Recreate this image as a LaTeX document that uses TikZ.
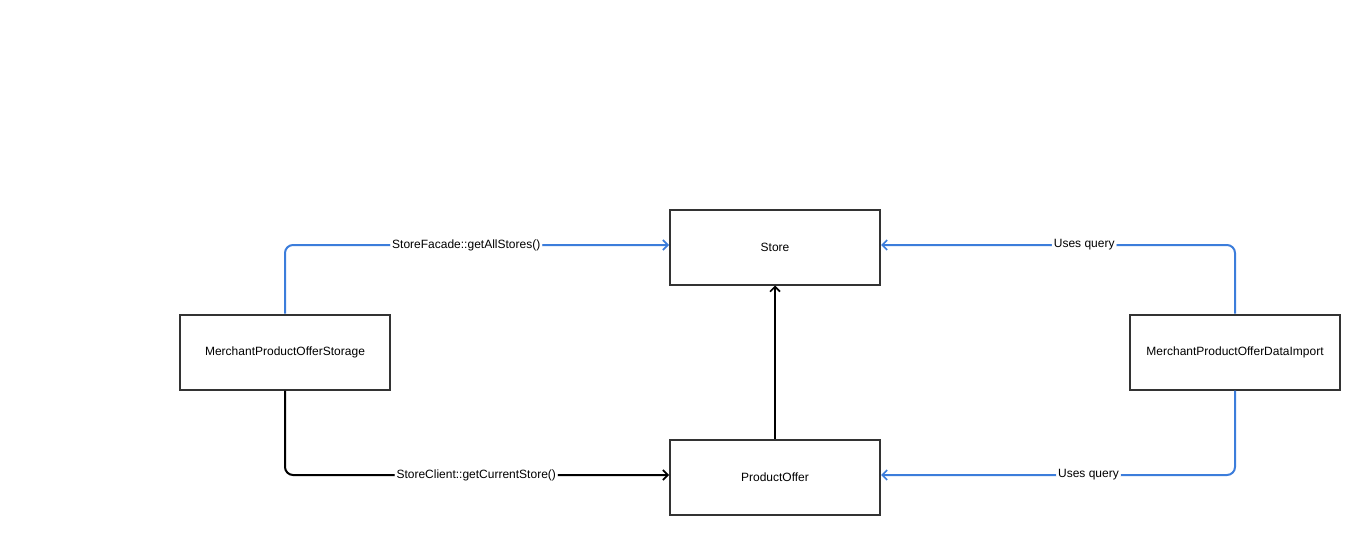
\documentclass[tikz,border=0pt]{standalone}
\usepackage{fontspec}
\setmainfont{Liberation Sans}
\usetikzlibrary{arrows.meta}
\definecolor{boxline}{HTML}{333333}
\definecolor{linkblue}{HTML}{3C7DDB}
\tikzset{
  box/.style={draw=boxline, line width=2pt, fill=white, minimum width=210pt, minimum height=75pt, inner sep=0pt, font=\fontsize{12}{14}\selectfont},
  conn/.style={line width=2pt, rounded corners=8pt, -{Straight Barb[length=5pt,width=10pt,line width=1.6pt]}},
  bluec/.style={conn, draw=linkblue},
  blackc/.style={conn, draw=black},
  lbl/.style={fill=white, inner sep=2pt, font=\fontsize{12}{14}\selectfont}
}
\begin{document}
\begin{tikzpicture}[x=1pt,y=-1pt]
\useasboundingbox (0,0) rectangle (1366,535);
\node[box] (store) at (775,247) {Store};
\node[box] (offer) at (775,477) {ProductOffer};
\node[box] (storage) at (285,352) {MerchantProductOfferStorage};
\node[box] (import) at (1235,352) {MerchantProductOfferDataImport};
\draw[bluec] (storage.north) |- node[lbl, pos=0.736] {StoreFacade::getAllStores()} ([yshift=2pt]store.west);
\draw[blackc] (storage.south) |- node[lbl, pos=0.749] {StoreClient::getCurrentStore()} ([yshift=2pt]offer.west);
\draw[blackc] (offer.north) -- (store.south);
\draw[bluec] (import.north) |- node[lbl, pos=0.713] {Uses query} ([yshift=2pt]store.east);
\draw[bluec] (import.south) |- node[lbl, pos=0.707] {Uses query} ([yshift=2pt]offer.east);
\end{tikzpicture}
\end{document}
